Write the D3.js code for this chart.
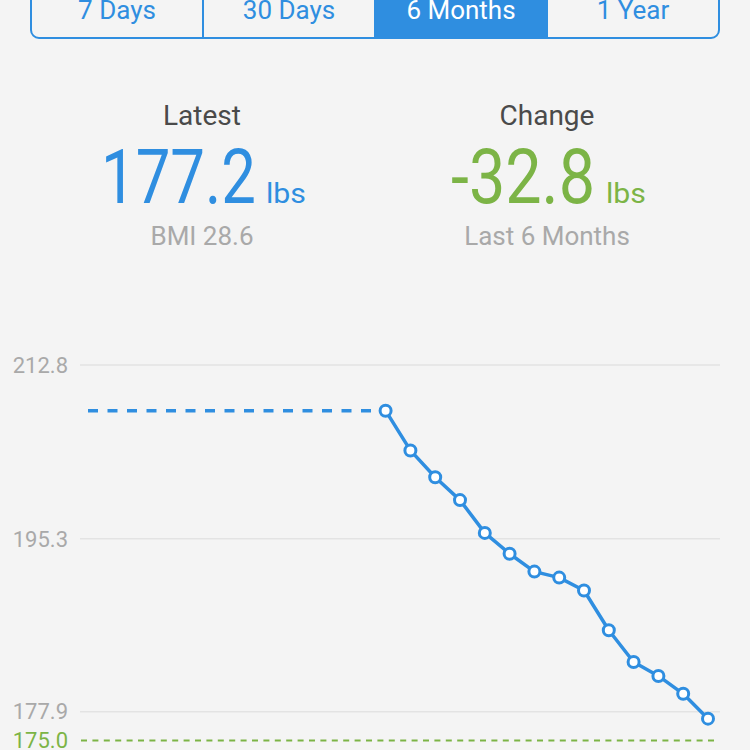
<!DOCTYPE html>
<html>
<head>
<meta charset="utf-8">
<script src="https://cdn.jsdelivr.net/npm/d3@7"></script>
<style>
  html, body { margin: 0; padding: 0; background: #f4f4f4; }
  svg { display: block; font-family: Roboto, "Noto Sans", sans-serif; }
</style>
</head>
<body>
<script>
// data
var tabs = ["7 Days", "30 Days", "6 Months", "1 Year"];
var selectedTab = "6 Months";
var weeks = [12, 13, 14, 15, 16, 17, 18, 19, 20, 21, 22, 23, 24, 25];
var weights = [208.2, 204.2, 201.5, 199.2, 195.9, 193.8, 192.0, 191.4, 190.1, 186.1, 182.9, 181.5, 179.7, 177.2];
var yTicks = [212.8, 195.3, 177.9];
var goal = 175.0;
var latest = "177.2", bmi = "BMI 28.6";
var change = "-32.8", changeNote = "Last 6 Months";

var blue = "#2f8ee0", green = "#7cb446", grey = "#a9a9a9";

var svg = d3.select("body").append("svg")
    .attr("width", 750)
    .attr("height", 750);

svg.append("rect").attr("width", 750).attr("height", 750).attr("fill", "#f4f4f4");

// segmented control
var tabX = d3.scaleBand().domain(tabs).range([31, 719]);

svg.append("rect")
    .attr("x", tabX(selectedTab)).attr("y", -10)
    .attr("width", tabX.bandwidth()).attr("height", 48)
    .attr("fill", blue);

svg.append("rect")
    .attr("x", 31).attr("y", -20).attr("width", 688).attr("height", 58)
    .attr("rx", 8)
    .attr("fill", "none").attr("stroke", blue).attr("stroke-width", 2);

svg.selectAll(".divider")
    .data(tabs.slice(1))
    .enter().append("line")
    .attr("x1", d => tabX(d)).attr("x2", d => tabX(d))
    .attr("y1", -10).attr("y2", 38)
    .attr("stroke", blue).attr("stroke-width", 2);

svg.selectAll(".tab")
    .data(tabs)
    .enter().append("text")
    .attr("x", d => tabX(d) + tabX.bandwidth() / 2)
    .attr("y", 19)
    .attr("text-anchor", "middle")
    .attr("font-size", 26)
    .attr("fill", d => d == selectedTab ? "#fff" : blue)
    .text(d => d);

// summary numbers
function header(cx, title) {
  svg.append("text")
      .attr("x", cx).attr("y", 125)
      .attr("text-anchor", "middle")
      .attr("font-size", 28)
      .attr("fill", "#4a4a4a")
      .text(title);
}
header(202, "Latest");
header(547, "Change");

function bigNumber(x, w, value, unitX, color) {
  svg.append("text")
      .attr("x", x).attr("y", 203)
      .attr("font-size", 76)
      .attr("textLength", w).attr("lengthAdjust", "spacingAndGlyphs")
      .attr("fill", color)
      .text(value);
  svg.append("text")
      .attr("x", unitX).attr("y", 203)
      .attr("font-size", 28)
      .attr("textLength", 40).attr("lengthAdjust", "spacingAndGlyphs")
      .attr("fill", color)
      .text("lbs");
}
bigNumber(101, 155, latest, 266, blue);
bigNumber(451, 144, change, 606, green);

svg.append("text").attr("x", 202).attr("y", 245)
    .attr("text-anchor", "middle").attr("font-size", 26).attr("fill", grey)
    .text(bmi);
svg.append("text").attr("x", 547).attr("y", 245)
    .attr("text-anchor", "middle").attr("font-size", 26).attr("fill", grey)
    .text(changeNote);

// chart
var x = d3.scaleLinear().domain([0, 25]).range([88, 708]);
var y = d3.scaleLinear().domain([goal, 212.8]).range([740.5, 365]);

var grid = svg.append("g");
grid.selectAll("line")
    .data(yTicks)
    .enter().append("line")
    .attr("x1", 80).attr("x2", 720)
    .attr("y1", d => y(d)).attr("y2", d => y(d))
    .attr("stroke", "#e3e3e3").attr("stroke-width", 1.5);
grid.selectAll("text")
    .data(yTicks)
    .enter().append("text")
    .attr("x", 68).attr("y", d => y(d))
    .attr("dy", "0.35em")
    .attr("text-anchor", "end")
    .attr("font-size", 22)
    .attr("fill", grey)
    .text(d => d.toFixed(1));

// goal line
svg.append("line")
    .attr("x1", 81).attr("x2", 718)
    .attr("y1", y(goal)).attr("y2", y(goal))
    .attr("stroke", green).attr("stroke-width", 2)
    .attr("stroke-dasharray", "6,5.4");
svg.append("text")
    .attr("x", 68).attr("y", y(goal))
    .attr("dy", "0.35em")
    .attr("text-anchor", "end")
    .attr("font-size", 22)
    .attr("fill", green)
    .text(goal.toFixed(1));

// dashed lead-in before first weigh-in
svg.append("line")
    .attr("x1", x(0)).attr("x2", x(weeks[0]))
    .attr("y1", y(weights[0])).attr("y2", y(weights[0]))
    .attr("stroke", blue).attr("stroke-width", 3.5)
    .attr("stroke-dasharray", "10,9.5");

var pts = weeks.map((w, i) => [w, weights[i]]);
var line = d3.line().x(d => x(d[0])).y(d => y(d[1]));

svg.append("path")
    .attr("d", line(pts))
    .attr("fill", "none")
    .attr("stroke", blue).attr("stroke-width", 3.5)
    .attr("stroke-linejoin", "round");

svg.selectAll(".dot")
    .data(pts)
    .enter().append("circle")
    .attr("cx", d => x(d[0])).attr("cy", d => y(d[1]))
    .attr("r", 5.5)
    .attr("fill", "#fff")
    .attr("stroke", blue).attr("stroke-width", 3);
</script>
</body>
</html>
